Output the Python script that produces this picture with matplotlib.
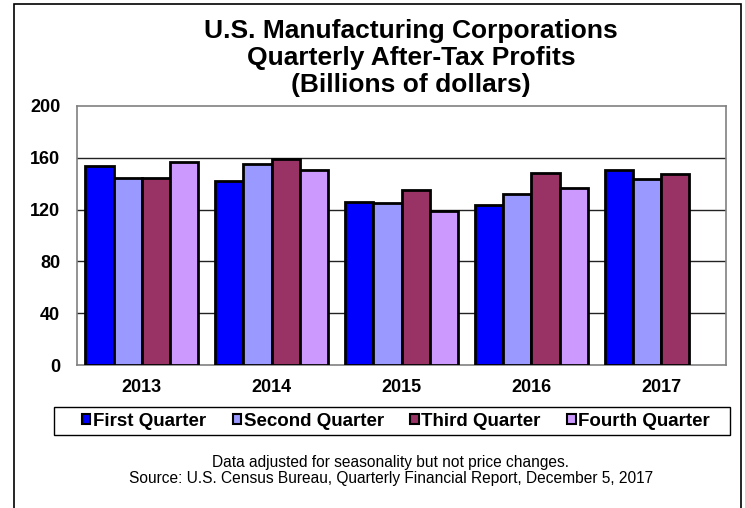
import numpy as np
import matplotlib
matplotlib.use("Agg")
import matplotlib.pyplot as plt
from matplotlib.patches import Rectangle

plt.rcParams['font.family'] = ['Liberation Sans', 'DejaVu Sans']

years = ["2013", "2014", "2015", "2016", "2017"]
quarters = ["First Quarter", "Second Quarter", "Third Quarter", "Fourth Quarter"]
q1 = [154, 142, 125.5, 123.5, 150.5]
q2 = [144.5, 155, 125, 132, 143.5]
q3 = [144.5, 159, 135, 148, 147.5]
q4 = [156.5, 150.5, 119, 136.5, None]
colors = ["#0000FF", "#9999FF", "#993366", "#CC99FF"]

W, H = 745, 508

def fx(px):
    return px / W

def fy(py):
    return 1 - py / H

fig = plt.figure(figsize=(7.45, 5.08), dpi=100)
ax = fig.add_axes([fx(77), fy(365), fx(726) - fx(77), fy(106) - fy(365)])

x = np.arange(len(years))
bw = 0.2175
series = [q1, q2, q3, q4]
for i, vals in enumerate(series):
    xs = [x[j] + (i - 1.5) * bw for j in range(len(years)) if vals[j] is not None]
    vs = [v for v in vals if v is not None]
    ax.bar(xs, vs, width=bw, color=colors[i], edgecolor="black", linewidth=2,
           label=quarters[i], zorder=3)

ax.set_xlim(-0.5, len(years) - 0.5)
ax.set_ylim(0, 200)
ax.set_yticks([0, 40, 80, 120, 160, 200])
ax.set_xticks(x)
ax.set_xticklabels(years)
for gy in [40, 80, 120, 160]:
    ax.axhline(gy, color="#222222", linewidth=1, zorder=1)
for s in ax.spines.values():
    s.set_color("#808080")
    s.set_linewidth(1.2)
ax.tick_params(axis="both", length=0, labelsize=13)
ax.tick_params(axis="y", pad=12)
ax.tick_params(axis="x", pad=10)
for lab in ax.get_xticklabels() + ax.get_yticklabels():
    lab.set_fontweight("bold")

# titles
titles = ["U.S. Manufacturing Corporations", "Quarterly After-Tax Profits",
          "(Billions of dollars)"]
for t, by in zip(titles, [38, 65, 92]):
    fig.text(fx(411), fy(by), t, ha="center", va="baseline", fontsize=19,
             fontweight="bold")

# legend: box drawn by hand, entries without frame
fig.patches.append(Rectangle((fx(54), fy(435)), fx(730) - fx(54), fy(407) - fy(435),
                             transform=fig.transFigure, fill=False,
                             edgecolor="black", linewidth=1))
leg = fig.legend(loc="center", bbox_to_anchor=(fx(396), fy(421)), ncol=4,
                 frameon=False, prop={"weight": "bold", "size": 13.5},
                 handlelength=0.45, handleheight=0.45, handletextpad=0.15,
                 columnspacing=1.4, borderpad=0.2)
for h in leg.legend_handles:
    h.set_linewidth(1.5)

fig.text(fx(391), fy(467), "Data adjusted for seasonality but not price changes.",
         ha="center", va="baseline", fontsize=11.2)
fig.text(fx(391), fy(483),
         "Source: U.S. Census Bureau, Quarterly Financial Report, December 5, 2017",
         ha="center", va="baseline", fontsize=11.2)

fig.patches.append(Rectangle((fx(14), fy(515)), fx(741) - fx(14), fy(4) - fy(515),
                             transform=fig.transFigure, fill=False,
                             edgecolor="black", linewidth=1.2))

fig.savefig("out.png", dpi=100)
